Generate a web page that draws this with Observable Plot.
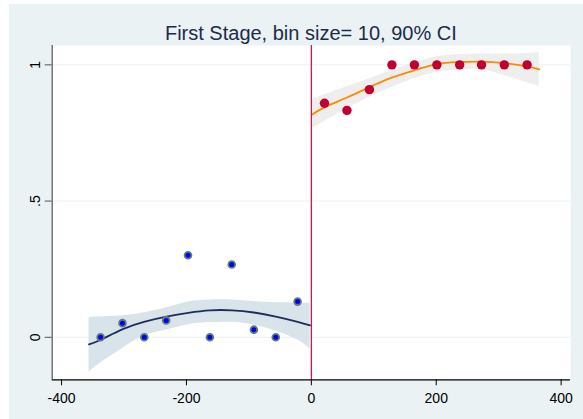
<!DOCTYPE html>
<html>
<head>
<meta charset="utf-8">
<script src="https://cdn.jsdelivr.net/npm/d3@7"></script>
<script src="https://cdn.jsdelivr.net/npm/@observablehq/plot@0.6"></script>
<style>
  html, body { margin: 0; padding: 0; background: #ffffff; }
  #wrap { position: absolute; left: 9px; top: 4px; width: 574px; height: 415px; background: #eaf2f3; overflow: hidden; }
  #title { position: absolute; left: 42.7px; width: 518.3px; top: 19px; font: 20px/20px "Liberation Sans", Arial, sans-serif; color: #1c2b4a; text-align: center; white-space: nowrap; }
  #chart { position: absolute; left: 0; top: 41px; }
</style>
</head>
<body>
<div id="wrap">
  <div id="title">First Stage, bin size= 10, 90% CI</div>
  <div id="chart"></div>
</div>
<script>
// Binned means (left of cutoff)
const leftBinX = [-337.5, -302.5, -267.5, -232.5, -197.5, -162.5, -127.5, -92, -57, -22];
const leftBinY = [0, 0.052, 0, 0.062, 0.301, 0, 0.267, 0.028, 0, 0.131];
// Binned means (right of cutoff)
const rightBinX = [21, 57, 93, 129, 165, 201, 237.5, 272.5, 309, 345.5];
const rightBinY = [0.859, 0.833, 0.909, 1, 1, 1, 1, 1, 1, 1];

// Fitted line and 90% CI, left side
const leftFitX = [-356, -338, -302, -268, -232, -197, -162, -127, -92, -57, -22, -2];
const leftFitY = [-0.026, -0.010, 0.030, 0.057, 0.076, 0.090, 0.099, 0.099, 0.091, 0.076, 0.057, 0.044];
const leftLo   = [-0.128, -0.095, -0.040, 0.005, 0.027, 0.046, 0.054, 0.055, 0.045, 0.023, -0.010, -0.043];
const leftHi   = [0.073, 0.075, 0.079, 0.090, 0.108, 0.130, 0.137, 0.137, 0.131, 0.128, 0.126, 0.125];

// Fitted line and 90% CI, right side
const rightFitX = [1.6, 21, 57, 93, 129, 165, 201, 237, 272, 309, 345, 365];
const rightFitY = [0.818, 0.844, 0.880, 0.918, 0.953, 0.980, 1.003, 1.010, 1.012, 1.006, 0.994, 0.983];
const rightLo   = [0.768, 0.792, 0.838, 0.881, 0.918, 0.950, 0.973, 0.982, 0.982, 0.961, 0.935, 0.921];
const rightHi   = [0.875, 0.890, 0.920, 0.949, 0.979, 1.007, 1.030, 1.038, 1.040, 1.040, 1.042, 1.044];

const xTicks = [-400, -200, 0, 200, 400];
const yTicks = [0, 0.5, 1];
const yTickLabels = ["0", ".5", "1"];
const cutoff = 0;

const xDomain = [-415, 415];
const yDomain = [-0.156, 1.071];

const leftBins = leftBinX.map((x, i) => ({x, y: leftBinY[i]}));
const rightBins = rightBinX.map((x, i) => ({x, y: rightBinY[i]}));
const leftFit = leftFitX.map((x, i) => ({x, y: leftFitY[i], lo: leftLo[i], hi: leftHi[i]}));
const rightFit = rightFitX.map((x, i) => ({x, y: rightFitY[i], lo: rightLo[i], hi: rightHi[i]}));

const plot = Plot.plot({
  width: 574,
  height: 374,
  marginLeft: 42.7,
  marginRight: 13,
  marginTop: 0,
  marginBottom: 39.7,
  style: {background: "transparent", fontFamily: "'Liberation Sans', Arial, sans-serif", fontSize: "14px", color: "#000"},
  x: {domain: xDomain, axis: null},
  y: {domain: yDomain, axis: null},
  marks: [
    Plot.frame({fill: "#ffffff", stroke: "none"}),
    Plot.gridY(yTicks, {stroke: "#eaf2f3", strokeOpacity: 1, strokeWidth: 1}),
    Plot.areaY(leftFit, {x: "x", y1: "lo", y2: "hi", fill: "#d8e4ea", curve: "natural"}),
    Plot.areaY(rightFit, {x: "x", y1: "lo", y2: "hi", fill: "#eeeeee", curve: "natural"}),
    Plot.line(leftFit, {x: "x", y: "y", stroke: "#1f2d5c", strokeWidth: 1.8, curve: "natural"}),
    Plot.line(rightFit, {x: "x", y: "y", stroke: "#ff8a00", strokeWidth: 1.8, curve: "natural"}),
    Plot.ruleX([cutoff], {stroke: "#e8003c", strokeWidth: 1.2}),
    Plot.dot(leftBins, {x: "x", y: "y", r: 3.4, fill: "#0000ff", stroke: "#5f7f73", strokeWidth: 1.8}),
    Plot.dot(rightBins, {x: "x", y: "y", r: 4.7, fill: "#c00030", stroke: "none"}),
    Plot.ruleX([xDomain[0]], {y1: yDomain[0], y2: yDomain[1], stroke: "#555555", strokeWidth: 1.2}),
    Plot.ruleY([yDomain[0]], {x1: xDomain[0], x2: xDomain[1], stroke: "#000000", strokeWidth: 1.2}),
    Plot.axisX(xTicks, {label: null, tickSize: 6, tickPadding: 7.5, fontSize: 14, stroke: "#000", fill: "#000", tickFormat: d => String(d)}),
    Plot.axisY(yTicks, {label: null, tickSize: 7, tickPadding: 5, tickRotate: -90, fontSize: 14, stroke: "#555", fill: "#000", tickFormat: (d, i) => yTickLabels[yTicks.indexOf(d)]})
  ]
});
document.getElementById("chart").appendChild(plot);
</script>
</body>
</html>
